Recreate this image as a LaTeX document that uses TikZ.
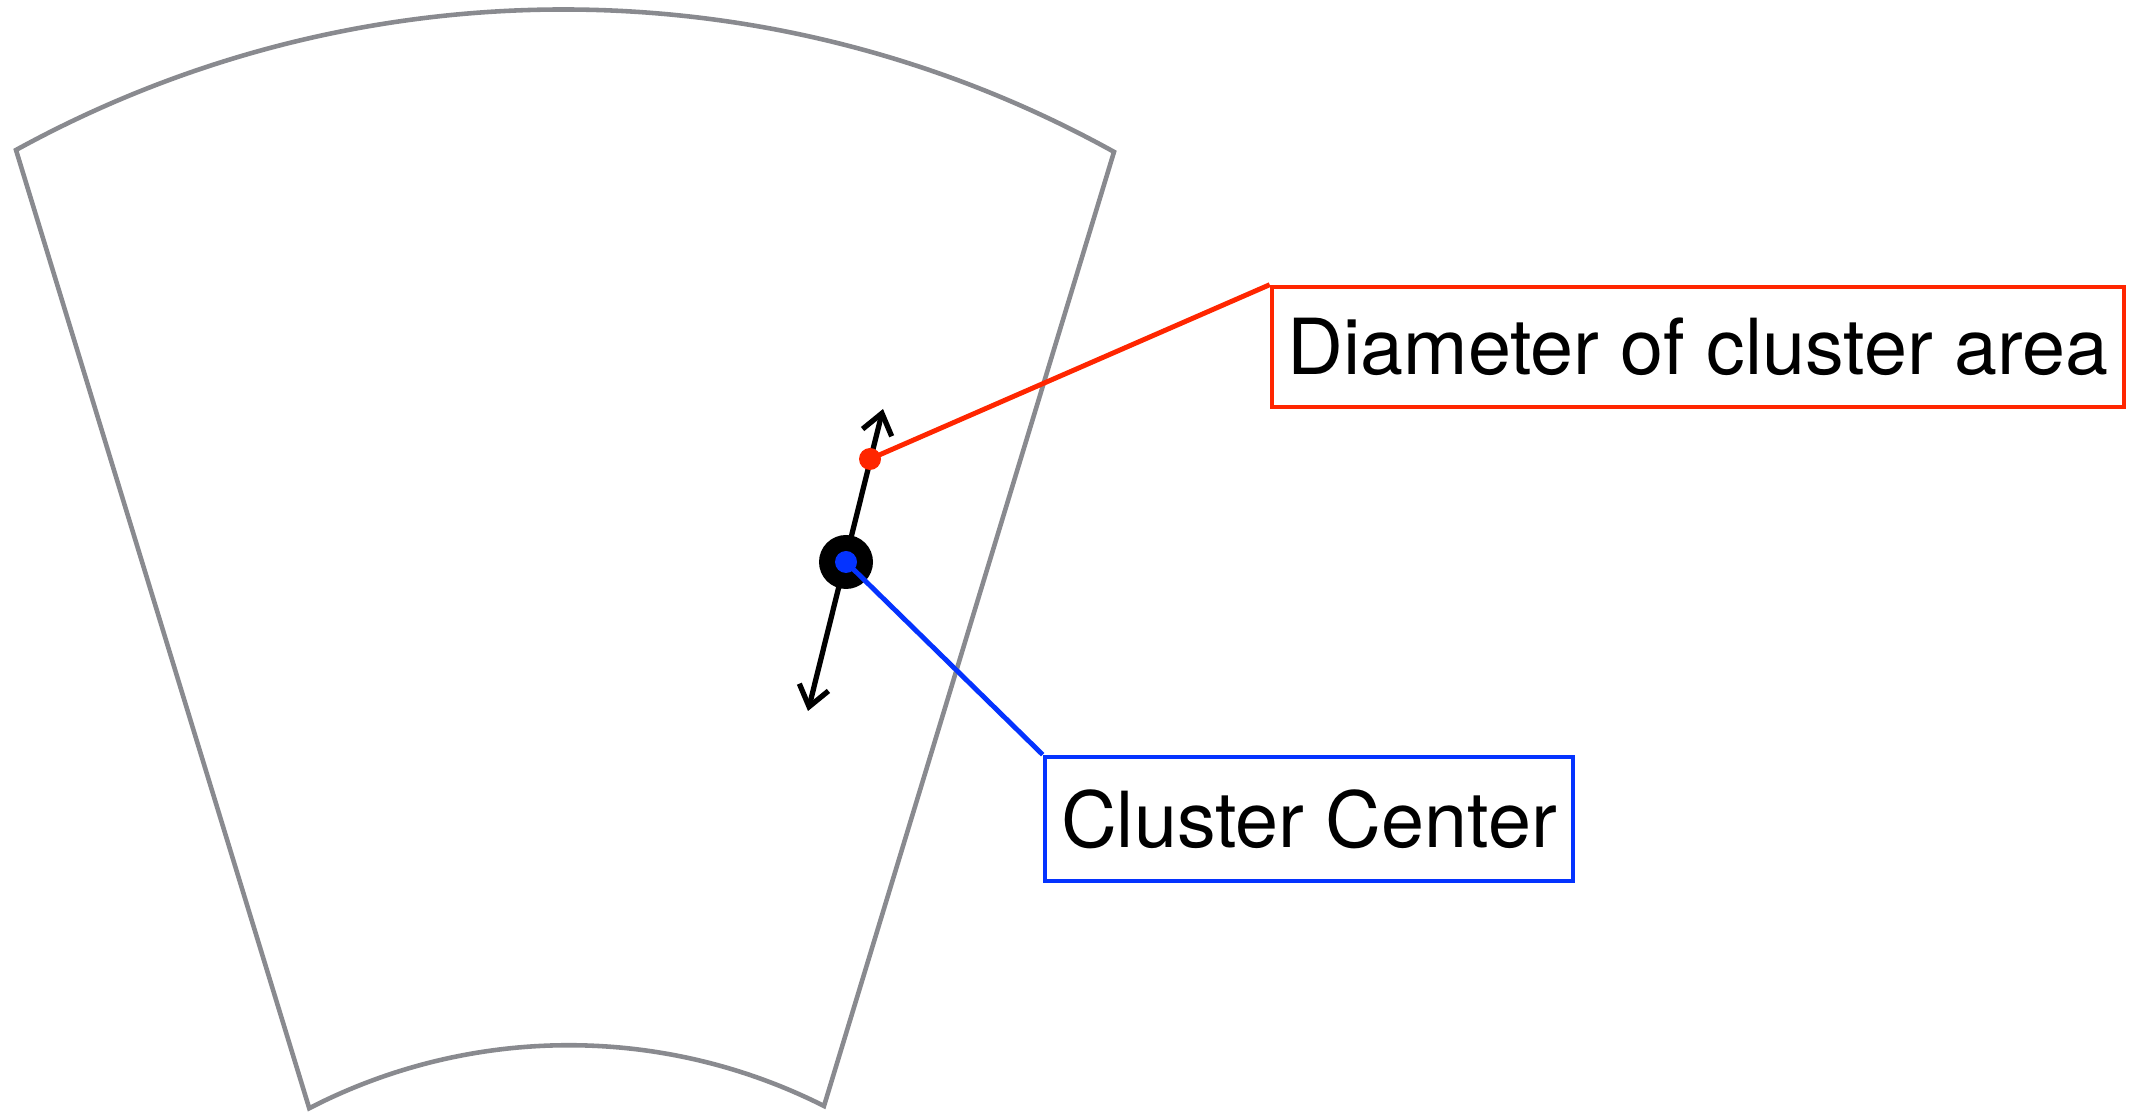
\documentclass[tikz,border=0pt]{standalone}
\usepackage{fontspec}
\setmainfont{TeX Gyre Heros}
\usetikzlibrary{arrows.meta}
\definecolor{sectorgray}{RGB}{137,138,143}
\definecolor{labelred}{RGB}{255,38,0}
\definecolor{labelblue}{RGB}{4,51,255}
\begin{document}
\begin{tikzpicture}[
    sector/.style={draw=sectorgray, line width=1.3pt},
    labelbox/.style={draw=#1, line width=1.3pt, inner sep=0pt, font=\fontsize{22}{26}\selectfont},
    leader/.style={draw=#1, line width=1.4pt}
  ]
  \useasboundingbox (0,0) rectangle (21.36,11.14);

  % Cell outline
  \draw[sector] (0.16,9.64) arc[start angle=118.8, end angle=61.0, radius=11.36]
    -- (8.24,0.08) arc[start angle=63.2, end angle=117.3, radius=5.66] -- cycle;

  % Diameter arrow
  \coordinate (dlow) at (8.08,4.03);
  \coordinate (dhigh) at (8.83,7.05);
  \draw[line width=1.5pt, {Straight Barb[length=2mm, width=3mm]}-{Straight Barb[length=2mm, width=3mm]}] (dlow) -- (dhigh);

  % Cluster center and edge point
  \fill[black] (8.46,5.52) circle (0.27);
  \fill[labelblue] (8.46,5.52) circle (0.11) coordinate (center);
  \fill[labelred] (8.70,6.55) circle (0.11) coordinate (edge);

  % Labels
  \node[labelbox=labelred, minimum width=8.52cm, minimum height=1.2cm] (diambox) at (16.98,7.67) {Diameter of cluster area};
  \node[labelbox=labelblue, minimum width=5.28cm, minimum height=1.24cm] (centerbox) at (13.09,2.95) {Cluster Center};

  \draw[leader=labelred] (edge) -- (diambox.north west);
  \draw[leader=labelblue] (center) -- (centerbox.north west);
\end{tikzpicture}
\end{document}
